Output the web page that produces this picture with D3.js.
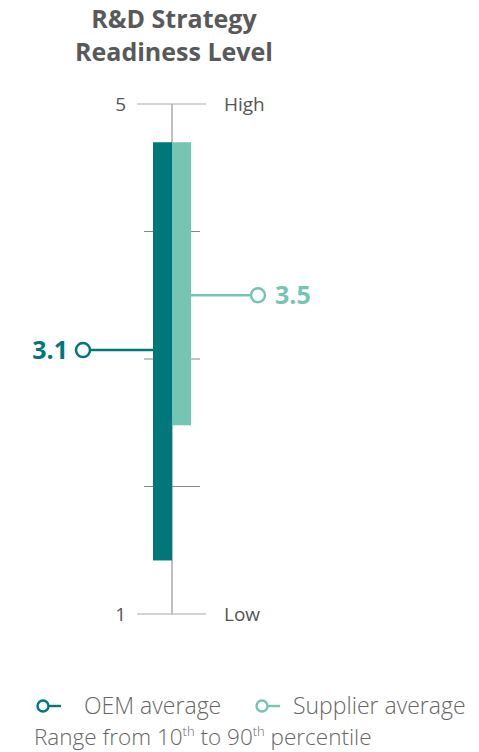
<!DOCTYPE html>
<html><head><meta charset="utf-8">
<script src="https://cdn.jsdelivr.net/npm/d3@7"></script>
<style>body{margin:0;background:#fff}svg{display:block}</style>
</head><body>
<script>
const titleLines = ["R&D Strategy", "Readiness Level"];
const series = ["OEM", "Supplier"];
const lowValues = [1.42, 2.48];
const highValues = [4.70, 4.70];
const averages = [3.07, 3.50];
const averageLabels = ["3.1", "3.5"];
const colors = ["#00777b", "#74c5b3"];
const tickValues = [1, 2, 3, 4, 5];
const endLabels = {5: "High", 1: "Low"};
const legendLabels = ["OEM average", "Supplier average"];

const W = 479, H = 752;
const svg = d3.select("body").append("svg").attr("width", W).attr("height", H);
const font = "'Open Sans', 'Noto Sans', sans-serif";
const grey = "#a9a9a9", textGrey = "#555";

// Title
svg.append("text").attr("x", 174).attr("y", 28).attr("text-anchor", "middle")
  .attr("font-family", font).attr("font-weight", 700).attr("font-size", 25).attr("fill", "#58595b")
  .selectAll("tspan").data(titleLines).join("tspan")
  .attr("x", 174).attr("dy", (d, i) => i ? 33 : 0).text(d => d);

const y = d3.scaleLinear().domain([1, 5]).range([614, 104]);
const axisX = 172;
const x = d3.scaleBand().domain(series).range([153, 191]).padding(0);

// axis vertical line
svg.append("line").attr("x1", axisX).attr("x2", axisX).attr("y1", y(5)).attr("y2", y(1))
  .attr("stroke", grey).attr("stroke-width", 1.5);

// ticks
svg.selectAll("line.tick").data(tickValues).join("line").attr("class", "tick")
  .attr("x1", d => (d === 1 || d === 5) ? 137 : 144)
  .attr("x2", d => (d === 1 || d === 5) ? 206 : 200)
  .attr("y1", d => y(d)).attr("y2", d => y(d))
  .attr("stroke", d => (d === 1 || d === 5) ? grey : "#888").attr("stroke-width", 1.2);

svg.selectAll("text.tnum").data([1, 5]).join("text").attr("class", "tnum")
  .attr("x", 126).attr("y", d => y(d)).attr("dy", "0.35em").attr("text-anchor", "end")
  .attr("font-family", font).attr("font-size", 19).attr("fill", textGrey).text(d => d);
svg.selectAll("text.tend").data([1, 5]).join("text").attr("class", "tend")
  .attr("x", 224).attr("y", d => y(d)).attr("dy", "0.35em")
  .attr("font-family", font).attr("font-size", 19).attr("fill", textGrey).text(d => endLabels[d]);

// bars
svg.selectAll("rect.bar").data(series).join("rect").attr("class", "bar")
  .attr("x", d => x(d)).attr("width", x.bandwidth())
  .attr("y", (d, i) => y(highValues[i])).attr("height", (d, i) => y(lowValues[i]) - y(highValues[i]))
  .attr("fill", (d, i) => colors[i]);

// averages
const avgCircleX = [83, 258];
// OEM
svg.append("line").attr("x1", avgCircleX[0] + 7).attr("x2", x("OEM"))
  .attr("y1", y(averages[0])).attr("y2", y(averages[0])).attr("stroke", colors[0]).attr("stroke-width", 2.5);
svg.append("circle").attr("cx", avgCircleX[0]).attr("cy", y(averages[0])).attr("r", 7)
  .attr("fill", "#fff").attr("stroke", colors[0]).attr("stroke-width", 2.5);
svg.append("text").attr("x", 68).attr("y", y(averages[0])).attr("dy", "0.35em").attr("text-anchor", "end")
  .attr("font-family", font).attr("font-weight", 700).attr("font-size", 25).attr("fill", colors[0]).text(averageLabels[0]);
// Supplier
svg.append("line").attr("x1", x("Supplier") + x.bandwidth()).attr("x2", avgCircleX[1] - 7)
  .attr("y1", y(averages[1])).attr("y2", y(averages[1])).attr("stroke", colors[1]).attr("stroke-width", 2.5);
svg.append("circle").attr("cx", avgCircleX[1]).attr("cy", y(averages[1])).attr("r", 7)
  .attr("fill", "#fff").attr("stroke", colors[1]).attr("stroke-width", 2.5);
svg.append("text").attr("x", 275).attr("y", y(averages[1])).attr("dy", "0.35em")
  .attr("font-family", font).attr("font-weight", 700).attr("font-size", 25).attr("fill", colors[1]).text(averageLabels[1]);

// legend
const legX = [43, 262], legTextX = [84, 293], legY = 706;
legendLabels.forEach((lab, i) => {
  svg.append("circle").attr("cx", legX[i]).attr("cy", legY).attr("r", 5.5)
    .attr("fill", "#fff").attr("stroke", colors[i]).attr("stroke-width", 2.4);
  svg.append("line").attr("x1", legX[i] + 5.5).attr("x2", legX[i] + 18).attr("y1", legY).attr("y2", legY)
    .attr("stroke", colors[i]).attr("stroke-width", 2.4);
  svg.append("text").attr("x", legTextX[i]).attr("y", legY).attr("dy", "0.35em")
    .attr("font-family", font).attr("font-weight", 300).attr("font-size", 23).attr("fill", "#666").text(lab);
});
const rt = svg.append("text").attr("x", 34).attr("y", 745)
  .attr("font-family", font).attr("font-weight", 300).attr("font-size", 22.5).attr("fill", "#666");
rt.append("tspan").text("Range from 10");
rt.append("tspan").attr("font-size", 13).attr("dy", -9).text("th");
rt.append("tspan").attr("dy", 9).text(" to 90");
rt.append("tspan").attr("font-size", 13).attr("dy", -9).text("th");
rt.append("tspan").attr("dy", 9).text(" percentile");
</script>
</body></html>
